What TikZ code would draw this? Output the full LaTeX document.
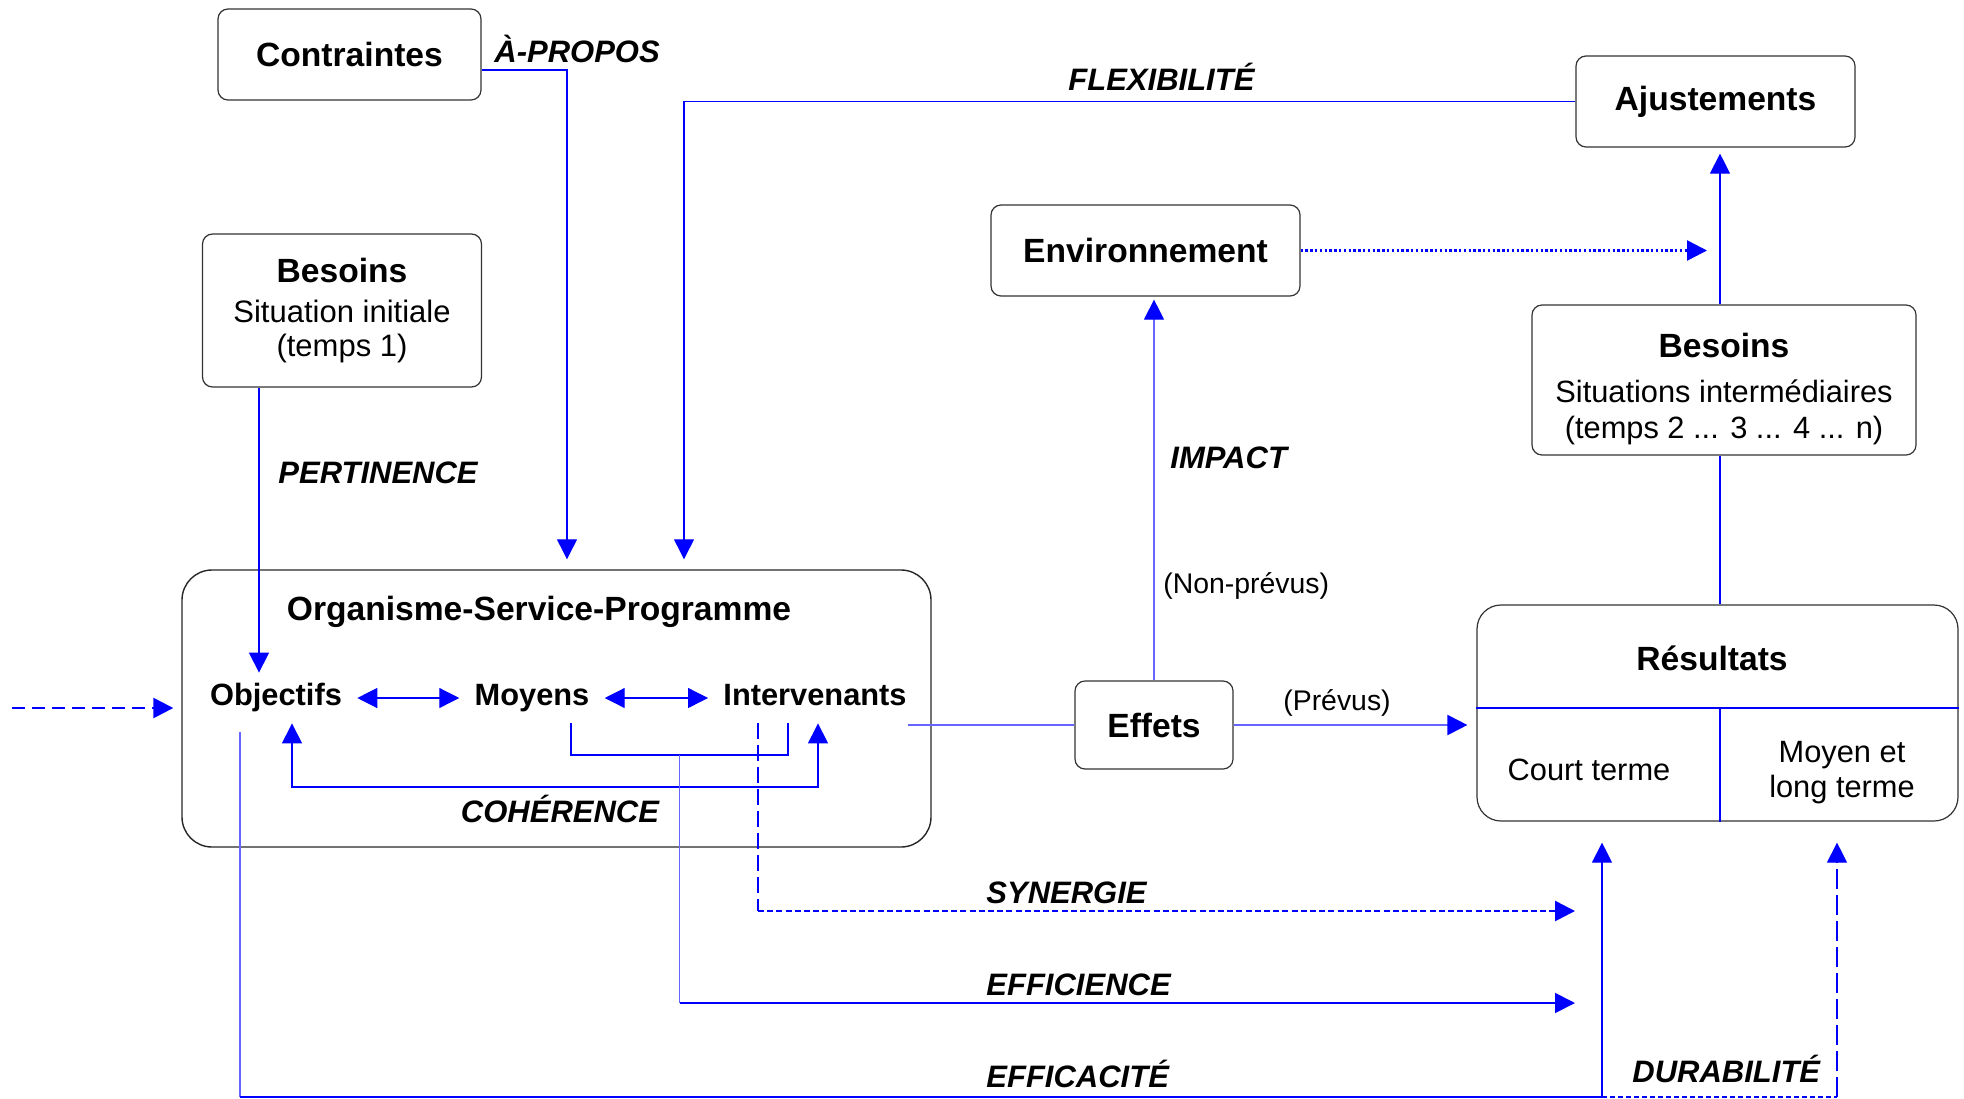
\documentclass[tikz,border=0pt]{standalone}
\usepackage{fontspec}
\setmainfont{Liberation Sans}
\usetikzlibrary{arrows.meta,calc}

\begin{document}
\begin{tikzpicture}[x=0.5pt,y=-0.5pt,
  boite/.style={draw=black!80, line width=0.6pt, rounded corners=5pt, inner sep=0pt, align=center, font=\fontsize{16.8}{20}\selectfont\bfseries},
  terme/.style={inner ysep=0pt, inner xsep=7.5pt, text height=16pt, text depth=9pt, anchor=base, font=\fontsize{15.4}{18}\selectfont\bfseries},
  critere/.style={anchor=base west, inner sep=0pt, font=\fontsize{15.5}{18}\selectfont\bfseries\itshape},
  remarque/.style={anchor=base, inner sep=0pt, font=\fontsize{14.2}{17}\selectfont},
  lien/.style={blue, line width=0.6pt},
  pale/.style={blue!60, line width=0.6pt},
  pointe/.style={-{Triangle[length=10pt,width=10pt,color=blue]}},
  pointes/.style={{Triangle[length=10pt,width=10pt,color=blue]}-{Triangle[length=10pt,width=10pt,color=blue]}}]
\useasboundingbox (0,0) rectangle (1964,1098);

% boites
\node[boite, minimum width=131.5pt, minimum height=45.5pt] (contr) at (349.5,54.5) {Contraintes};
\node[boite, minimum width=139.5pt, minimum height=45.5pt] (ajust) at (1715.5,101.5) {Ajustements};
\node[boite, minimum width=154.5pt, minimum height=45.5pt] (env) at (1145.5,250.5) {Environnement};
\node[boite, minimum width=79pt, minimum height=44pt] (effets) at (1154,725) {Effets};
\node[boite, minimum width=139.5pt, minimum height=76.5pt, font=\fontsize{15.5}{17}\selectfont] (besG) at (342,310.5)
  {{\fontsize{16.8}{20}\selectfont\bfseries Besoins}\\[3pt]Situation initiale\\(temps 1)};
\node[boite, minimum width=192pt, minimum height=75pt] (besD) at (1724,380) {};
\node[align=center, inner sep=0pt, font=\fontsize{15.4}{17.8}\selectfont] (besDtxt) at (1724,389)
  {{\fontsize{16.8}{20}\selectfont\bfseries Besoins}\\[5pt]Situations intermédiaires\\(temps 2 ... 3 ... 4 ... n)};

% organisme
\node[draw=black!85, line width=0.7pt, rounded corners=15pt, minimum width=374.5pt, minimum height=138.5pt] (osp) at (556.5,708.5) {};
\node[anchor=base, font=\fontsize{16.8}{20}\selectfont\bfseries] (titre) at (539,620) {Organisme-Service-Programme};
\node[terme] (obj) at (276,705) {Objectifs};
\node[terme] (moy) at (532,705) {Moyens};
\node[terme] (inter) at (815,705) {Intervenants};
\draw[lien,pointes] (obj) -- (moy);
\draw[lien,pointes] (moy) -- (inter);

% resultats
\node[draw=black!80, line width=0.6pt, rounded corners=12pt, minimum width=240.5pt, minimum height=108pt] (res) at (1717.5,713) {};
\node[anchor=base, font=\fontsize{16.8}{20}\selectfont\bfseries] (restit) at (1712,670) {Résultats};
\coordinate (div) at (1720,708);
\draw[lien] (res.west |- div) -- (res.east |- div);
\draw[lien] (div) -- (div |- res.south);
\node[anchor=base, font=\fontsize{15.4}{17.5}\selectfont] (court) at (1589,780) {Court terme};
\node[align=center, font=\fontsize{15.4}{17.5}\selectfont] (moyen) at (1842,773) {Moyen et\\long terme};

% criteres
\node[critere] (apropos) at (494,62) {À-PROPOS};
\node[critere] (flexi) at (1068,90) {FLEXIBILITÉ};
\node[critere] (pert) at (278,483) {PERTINENCE};
\node[critere] (impact) at (1170,468) {IMPACT};
\node[critere, anchor=base] (coher) at (560,822) {COHÉRENCE};
\node[critere] (syn) at (986,903) {SYNERGIE};
\node[critere] (effic) at (986,995) {EFFICIENCE};
\node[critere] (effca) at (986,1087) {EFFICACITÉ};
\node[critere] (durab) at (1632,1082) {DURABILITÉ};
\node[remarque, anchor=base west] (nonprev) at (1163,593) {(Non-prévus)};
\node[remarque] (prev) at (1337,710) {(Prévus)};

% a-propos et flexibilite
\coordinate (coinA) at (567,70);
\draw[lien,pointe,shorten >=5pt] (contr.east |- coinA) -| (coinA |- osp.north);
\coordinate (coinF) at (684,101);
\draw[lien,pointe,shorten >=5pt] (ajust.west) -| (coinF |- osp.north);

% pertinence
\coordinate (axeP) at (259,0);
\draw[lien,pointe] (besG.south -| axeP) -- (obj.north -| axeP);

% coherence
\coordinate (cohG) at (292,787);
\coordinate (cohD) at (818,787);
\draw[lien,pointes] (obj.south -| cohG) -- (cohG) -- (cohD) -- (inter.south -| cohD);
\coordinate (brG) at (571,755);
\coordinate (brD) at (788,755);
\draw[lien] (moy.south -| brG) -- (brG) -- (brD) -- (inter.south -| brD);

% efficience
\coordinate (effA) at ($(brG)!.5!(brD)$);
\coordinate (finEff) at (1575,1003);
\draw[pale] (effA) -- (effA |- finEff);
\draw[lien,line width=0.9pt,pointe] (effA |- finEff) -- (finEff);

% synergie
\coordinate (synH) at (758,911);
\coordinate (finSyn) at (1575,911);
\draw[lien, dash pattern=on 8pt off 3pt] (inter.south -| synH) -- (synH);
\draw[lien, line width=1.3pt, dash pattern=on 3pt off 1.6pt, pointe] (synH) -- (finSyn);

% efficacite et durabilite
\coordinate (effcaG) at (240,1097);
\coordinate (effcaD) at (1602,1097);
\coordinate (durD) at (1837,1097);
\draw[pale, shorten <=4.5pt] (obj.south -| effcaG) -- (effcaG);
\draw[lien, line width=1pt] (effcaG) -- (effcaD);
\draw[lien, pointe, shorten >=10.5pt] (effcaD) -- (res.south -| effcaD);
\draw[lien, line width=1.2pt, dash pattern=on 2.5pt off 1.5pt] (effcaD) -- (durD);
\draw[lien, dash pattern=on 10pt off 3pt, pointe, shorten >=10.5pt] (durD) -- (res.south -| durD);

% effets
\draw[pale, line width=1pt, shorten <=-7pt] (inter.east |- effets.west) -- (effets.west);
\draw[pale, line width=1pt, pointe, shorten >=4.5pt] (effets.east) -- (res.west |- effets.east);
\draw[pale, pointe, shorten >=1.5pt] (effets.north) -- (effets.north |- env.south);

% environnement, besoins, ajustements
\coordinate (axeD) at (1720,0);
\draw[lien, line width=1.2pt, dash pattern=on 1.2pt off 1.2pt, pointe, shorten >=6.5pt] (env.east) -- (env.east -| axeD);
\draw[lien, pointe, shorten >=3pt] (besD.north -| axeD) -- (ajust.south -| axeD);
\draw[lien] (res.north -| axeD) -- (besD.south -| axeD);

% entree
\coordinate (entree) at (12,708);
\draw[lien, line width=1.3pt, dash pattern=on 6.5pt off 3.5pt, pointe, shorten >=4pt] (entree) -- (osp.west |- entree);
\end{tikzpicture}
\end{document}
